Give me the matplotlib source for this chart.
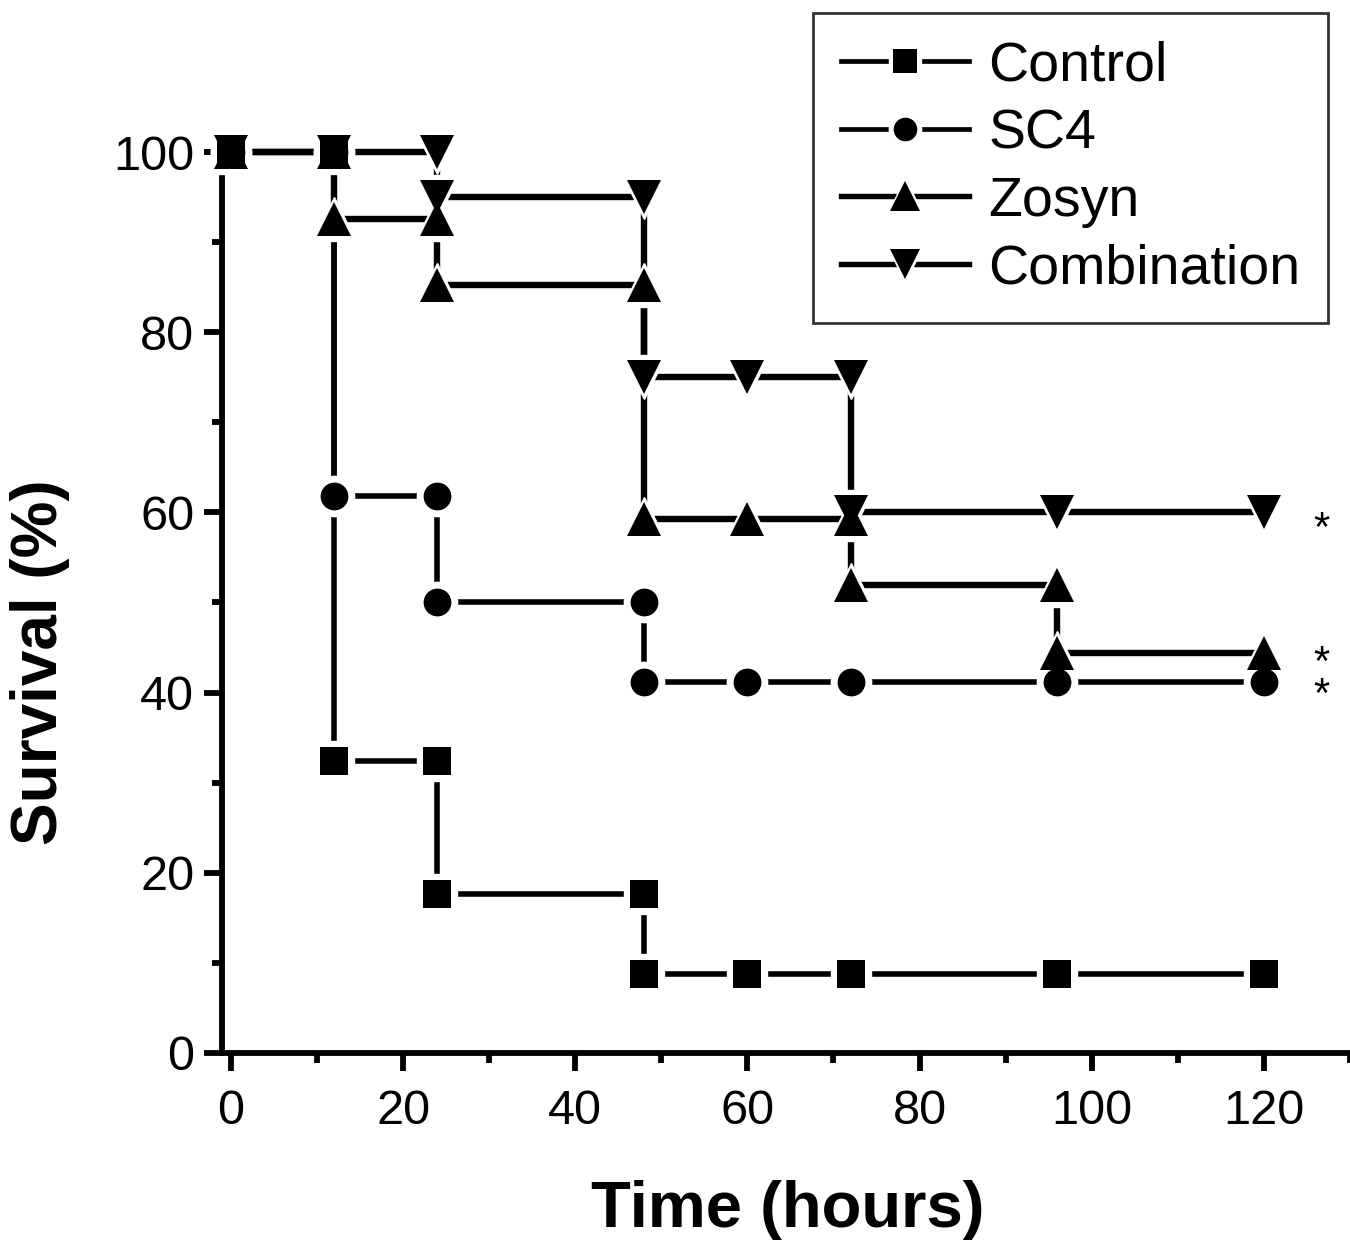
import matplotlib
matplotlib.use("Agg")
import matplotlib.pyplot as plt
from matplotlib.lines import Line2D
from matplotlib.legend_handler import HandlerTuple

plt.rcParams["font.family"] = ["Liberation Sans", "DejaVu Sans"]

# Kaplan-Meier style survival data (percent)
times = [0, 12, 24, 48, 60, 72, 96, 120]
control = [100, 32.4, 17.6, 8.8, 8.8, 8.8, 8.8, 8.8]
sc4 = [100, 61.8, 50.0, 41.2, 41.2, 41.2, 41.2, 41.2]
zosyn = [100, 92.6, 85.2, 59.3, 59.3, 51.9, 44.4, 44.4]
combination = [100, 100, 95.0, 75.0, 75.0, 60.0, 60.0, 60.0]

series_names = ["Control", "SC4", "Zosyn", "Combination"]
series_values = [control, sc4, zosyn, combination]
series_markers = ["s", "o", "^", "v"]
series_ms = [20, 20, 25, 25]
series_gap = [9, 9, 6, 6]
series_lw = [4.0, 4.0, 4.6, 4.6]

fig = plt.figure(figsize=(13.5, 12.43), dpi=100)
ax = fig.add_axes([0.1644, 0.1529, 0.8356, 0.7248])

handles = []
# draw in reverse so Control sits on top
for name, vals, mk, ms, gap, lw in reversed(list(zip(series_names, series_values,
                                                       series_markers, series_ms,
                                                       series_gap, series_lw))):
    ax.step(times, vals, where="post", color="black", lw=lw,
            solid_capstyle="butt", zorder=2, clip_on=False)
    # markers at every time point, plus the pre-drop value at each drop
    mx, my = list(times), list(vals)
    for i in range(1, len(times)):
        if vals[i] != vals[i - 1]:
            mx.append(times[i])
            my.append(vals[i - 1])
    ax.plot(mx, my, ls="none", marker=mk, ms=ms + gap, color="white",
            mec="white", zorder=3, clip_on=False)
    ax.plot(mx, my, ls="none", marker=mk, ms=ms, color="black",
            mec="black", mew=0, zorder=4, clip_on=False)
    h_line = Line2D([], [], color="black", lw=lw * 0.85)
    h_halo = Line2D([], [], ls="none", marker=mk, ms=ms * 0.85 + gap * 0.7,
                    color="white", mec="white")
    h_mark = Line2D([], [], ls="none", marker=mk, ms=ms * 0.85, color="black", mew=0)
    handles.append(((h_line, h_halo, h_mark), name))

handles = handles[::-1]
leg = ax.legend([h for h, _ in handles], [n for _, n in handles],
                handler_map={tuple: HandlerTuple(ndivide=1)},
                loc="upper right", bbox_to_anchor=(1328 / 1350, 1 - 13 / 1243),
                bbox_transform=fig.transFigure, fontsize=40, frameon=True,
                fancybox=False, edgecolor="black", handlelength=2.3,
                handletextpad=0.35, labelspacing=0.28, borderpad=0.5,
                borderaxespad=0)
leg.get_frame().set_linewidth(2)
leg.set_zorder(5)

# significance marks next to the final values
ax.text(126.7, combination[-1] - 2.0, "*", fontsize=30, ha="center", va="center",
        clip_on=False)
ax.text(126.7, (zosyn[-1] + sc4[-1]) / 2 - 1.4, "*\n*", fontsize=30, ha="center",
        va="center", linespacing=0.72, clip_on=False)

ax.set_xlim(-1.04, 130)
ax.set_ylim(0, 100)
ax.set_xticks(range(0, 121, 20))
ax.set_xticks(range(10, 131, 20), minor=True)
ax.set_yticks(range(0, 101, 20))
ax.set_yticks(range(10, 100, 20), minor=True)
for side in ["top", "right"]:
    ax.spines[side].set_visible(False)
for side in ["left", "bottom"]:
    ax.spines[side].set_linewidth(4.2)
ax.tick_params(which="major", direction="out", length=13, width=4.2,
               labelsize=35, pad=7)
ax.tick_params(which="minor", direction="out", length=7, width=4.2)
ax.tick_params(axis="x", which="major", pad=13)

fig.text(0.5837, 0.0265, "Time (hours)", fontsize=47, fontweight="bold",
         ha="center", va="center")
fig.text(0.0300, 0.4674, "Survival (%)", fontsize=46, fontweight="bold",
         ha="center", va="center", rotation=90)

fig.savefig("out.png", dpi=100)
